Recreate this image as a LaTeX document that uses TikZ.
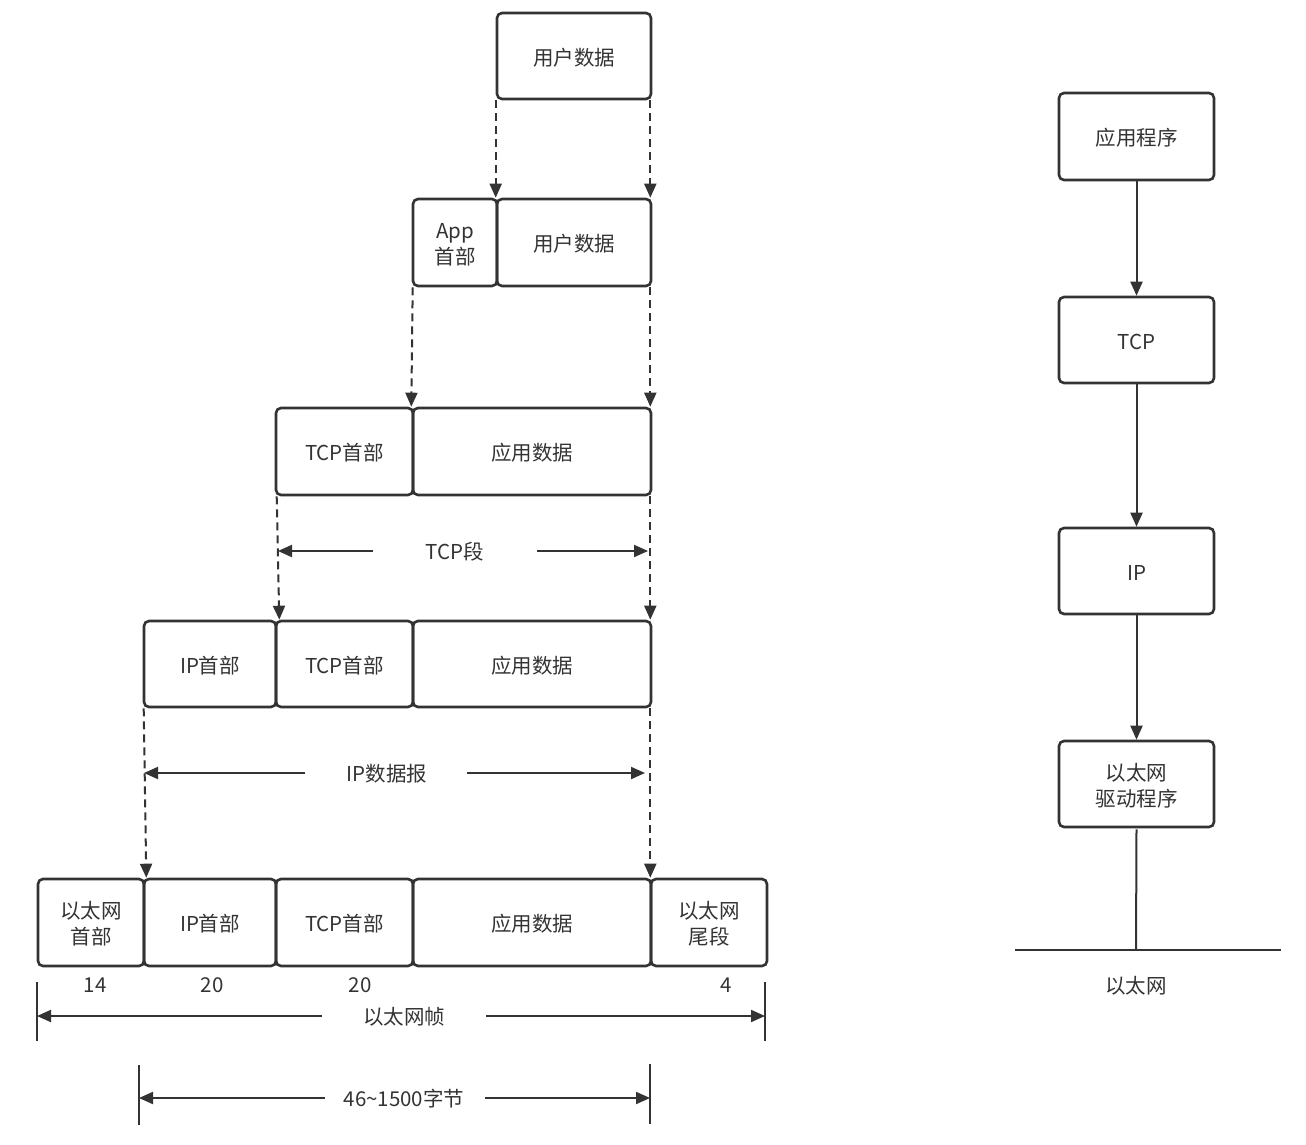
\documentclass[tikz,border=0pt]{standalone}
\usepackage{fontspec}
\setmainfont{Noto Sans CJK SC}
\usetikzlibrary{arrows.meta}
\definecolor{ink}{HTML}{333333}
\begin{document}
\begin{tikzpicture}[x=1pt,y=-1pt,
  font=\fontsize{20.5}{26}\selectfont,
  cell/.style={draw=ink,line width=2.6pt,rounded corners=5pt,text=ink,align=center,inner sep=0pt},
  flow/.style={draw=ink,line width=2pt,dash pattern=on 8pt off 5pt,-{Triangle[length=14pt,width=12pt]}},
  solidarrow/.style={draw=ink,line width=2pt,-{Triangle[length=14pt,width=12pt]}},
  tick/.style={draw=ink,line width=2pt},
  lbl/.style={text=ink,inner sep=0pt}]
\useasboundingbox (0,0) rectangle (1306,1145);

% box helper: name, left, top, right, bottom, text (text sits slightly low, as set)
\newcommand{\cellbox}[6]{%
  \node[cell,minimum width={#4-#2},minimum height={#5-#3}] (#1) at ({(#2+#4)/2},{(#3+#5)/2}) {\raisebox{-4pt}[\height][\depth]{\begin{tabular}{@{}c@{}}#6\end{tabular}}};}

% row 1
\cellbox{ua}{497}{13}{651}{99}{用户数据}
% row 2
\cellbox{apph}{413}{199}{497}{286}{App\\首部}
\cellbox{ub}{497}{199}{651}{286}{用户数据}
% row 3
\cellbox{tcpa}{276}{408}{413}{495}{TCP首部}
\cellbox{appa}{413}{408}{651}{495}{应用数据}
% row 4
\cellbox{ipb}{144}{621}{276}{707}{IP首部}
\cellbox{tcpb}{276}{621}{413}{707}{TCP首部}
\cellbox{appb}{413}{621}{651}{707}{应用数据}
% row 5
\cellbox{ethh}{38}{879}{144}{966}{以太网\\首部}
\cellbox{ipc}{144}{879}{276}{966}{IP首部}
\cellbox{tcpc}{276}{879}{413}{966}{TCP首部}
\cellbox{appc}{413}{879}{651}{966}{应用数据}
\cellbox{etht}{651}{879}{767}{966}{以太网\\尾段}

% dashed encapsulation arrows
\draw[flow] (ua.south west) -- (ub.north west);
\draw[flow] ([xshift=-2pt]ua.south east) -- ([xshift=-2pt]ub.north east);
\draw[flow] ([xshift=1pt]apph.south west) -- ([xshift=-3pt]tcpa.north east);
\draw[flow] ([xshift=-2pt]ub.south east) -- ([xshift=-2pt]appa.north east);
\draw[flow] ([xshift=2pt]tcpa.south west) -- ([xshift=2pt]ipb.north east);
\draw[flow] ([xshift=-2pt]appa.south east) -- ([xshift=-2pt]appb.north east);
\draw[flow] ([xshift=1pt]ipb.south west) -- ([xshift=1pt]ethh.north east);
\draw[flow] ([xshift=-2pt]appb.south east) -- ([xshift=-2pt]appc.north east);

% span: TCP segment
\node[lbl] (tseg) at (455,552) {TCP段};
\coordinate (tsl) at (278,551); \coordinate (tsr) at (648,551);
\draw[solidarrow] (373,551) -- (tsl);
\draw[solidarrow] (537,551) -- (tsr);

% span: IP datagram
\node[lbl] (idg) at (387,774) {IP数据报};
\coordinate (idl) at (144,773); \coordinate (idr) at (645,773);
\draw[solidarrow] (305,773) -- (idl);
\draw[solidarrow] (467,773) -- (idr);

% byte counts
\node[lbl] (n14) at (95,985) {14};
\node[lbl] (n20a) at (212,985) {20};
\node[lbl] (n20b) at (360,985) {20};
\node[lbl] (n4) at (726,985) {4};

% span: Ethernet frame
\coordinate (fl) at (37,1016); \coordinate (fr) at (765,1016);
\draw[tick] (37,982) -- (37,1041);
\draw[tick] (765,982) -- (765,1041);
\node[lbl] (frm) at (404,1017) {以太网帧};
\draw[solidarrow] (322,1016) -- (fl);
\draw[solidarrow] (486,1016) -- (fr);

% span: payload size
\coordinate (pl) at (139,1098); \coordinate (pr) at (650,1098);
\draw[tick] (139,1065) -- (139,1125);
\draw[tick] (650,1064) -- (650,1124);
\node[lbl] (pay) at (404,1099) {46\textasciitilde1500字节};
\draw[solidarrow] (325,1098) -- (pl);
\draw[solidarrow] (485,1098) -- (pr);

% protocol stack
\cellbox{sapp}{1059}{93}{1214}{180}{应用程序}
\cellbox{stcp}{1059}{297}{1214}{383}{TCP}
\cellbox{sip}{1059}{528}{1214}{614}{IP}
\cellbox{seth}{1059}{741}{1214}{827}{以太网\\驱动程序}
\draw[solidarrow] (sapp) -- (stcp);
\draw[solidarrow] (stcp) -- (sip);
\draw[solidarrow] (sip) -- (seth);
\coordinate (bus) at (1136,950);
\draw[tick] ([yshift=-1pt]seth.south) -- (bus);
\draw[tick] (1015,950) -- (1281,950);
\node[lbl] (net) at (1136,986) {以太网};
\end{tikzpicture}
\end{document}
